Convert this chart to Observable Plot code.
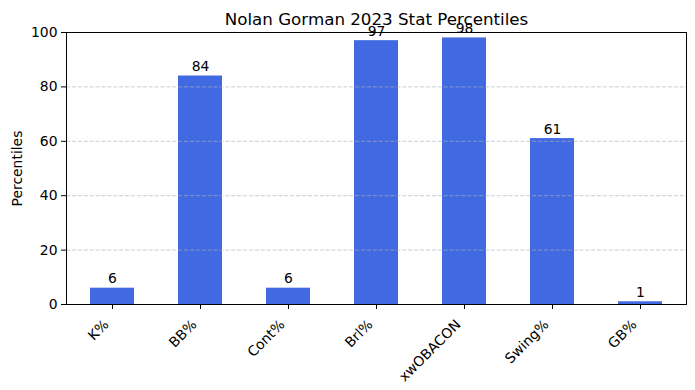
<!DOCTYPE html>
<html>
<head>
<meta charset="utf-8">
<script src="https://cdn.jsdelivr.net/npm/d3@7"></script>
<script src="https://cdn.jsdelivr.net/npm/@observablehq/plot@0.6"></script>
<style>
  html, body { margin: 0; padding: 0; background: #fff; }
  svg { font-family: "DejaVu Sans", sans-serif; }
</style>
</head>
<body>
<div id="chart"></div>
<script>
const categories = ["K%", "BB%", "Cont%", "Brl%", "xwOBACON", "Swing%", "GB%"];
const percentiles = [6, 84, 6, 97, 98, 61, 1];
const yTicks = [0, 20, 40, 60, 80, 100];
const gridTicks = [20, 40, 60, 80];
const titleText = "Nolan Gorman 2023 Stat Percentiles";
const yLabel = "Percentiles";

const data = categories.map((c, i) => ({cat: c, value: percentiles[i]}));

const fs = 13.9;
const chart = Plot.plot({
  width: 695,
  height: 390,
  marginLeft: 66,
  marginRight: 9,
  marginTop: 32,
  marginBottom: 86,
  style: {fontFamily: "DejaVu Sans, sans-serif", fontSize: fs + "px", color: "#000", background: "#fff"},
  x: {domain: categories, paddingInner: 0.5, paddingOuter: 0.25, axis: null},
  y: {domain: [0, 100], axis: null},
  marks: [
    Plot.barY(data, {x: "cat", y: "value", fill: "#4169E1"}),
    Plot.gridY(gridTicks, {stroke: "#b0b0b0", strokeOpacity: 0.8, strokeWidth: 0.8, strokeDasharray: "4.1,1.8"}),
    Plot.text(data, {x: "cat", y: "value", text: d => String(d.value), dy: -5, lineAnchor: "bottom", fontSize: fs, fill: "#000"}),
    Plot.frame({stroke: "#000", strokeWidth: 1}),
    Plot.axisY({ticks: yTicks, tickSize: 5, tickPadding: 4, fontSize: fs, label: null, tickFormat: d => String(d)}),
    Plot.axisX({tickSize: 5, tickFormat: () => "", label: null}),
    Plot.text(categories, {x: d => d, frameAnchor: "bottom", dy: 14, dx: -10, rotate: -45, textAnchor: "end", lineAnchor: "top", fontSize: fs, fill: "#000"}),
    Plot.text([titleText], {frameAnchor: "top", dy: -8, lineAnchor: "bottom", fontSize: 16.7, fill: "#000"}),
    Plot.text([yLabel], {frameAnchor: "left", dx: -49, rotate: -90, textAnchor: "middle", fontSize: fs, fill: "#000"})
  ]
});
document.getElementById("chart").appendChild(chart);
</script>
</body>
</html>
